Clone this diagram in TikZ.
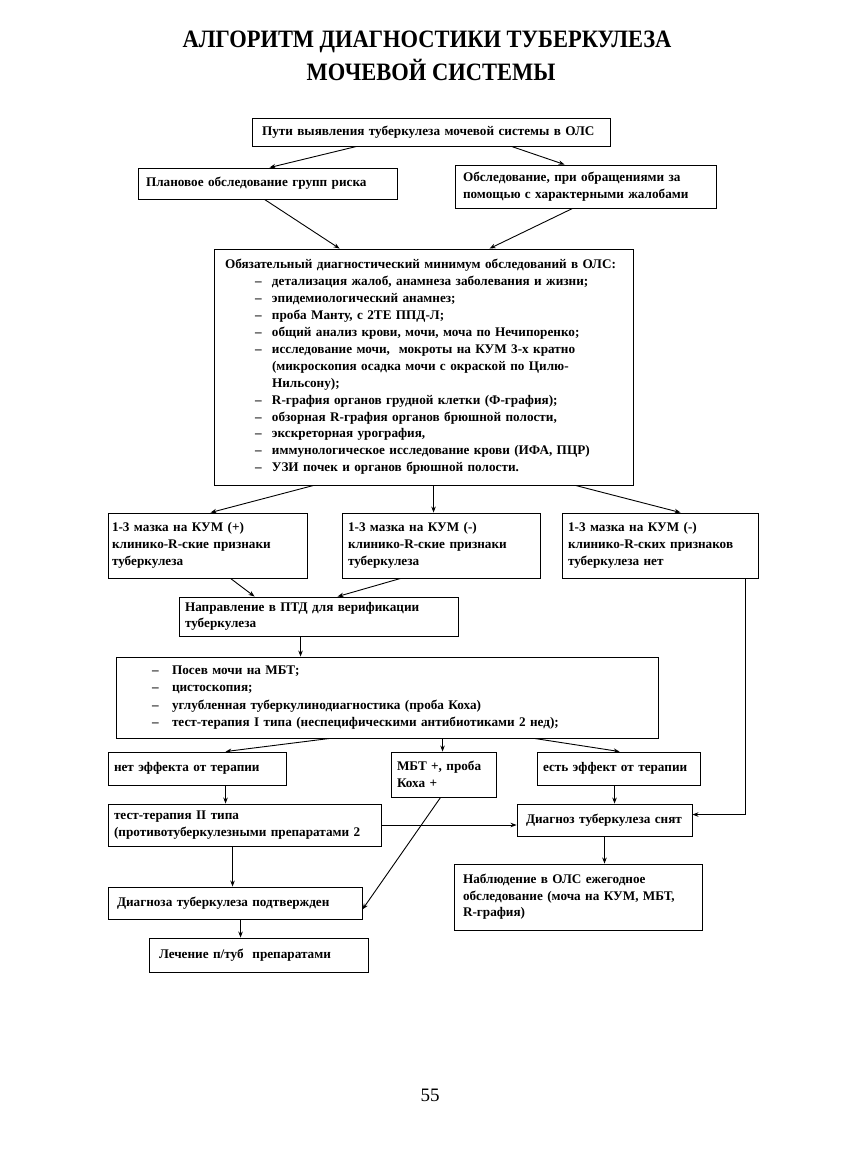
\documentclass[tikz,border=0pt]{standalone}
\usepackage{fontspec}
\setmainfont{Liberation Serif}
\usetikzlibrary{arrows.meta,calc}
\newcommand\dashitem[2]{\hspace*{#1}\makebox[#2][l]{–}}
\tikzset{
  box/.style={draw, line width=0.9pt, inner ysep=2pt, align=left,
    font=\fontsize{13.2}{16.5}\selectfont\bfseries},
  arr/.style={line width=0.9pt, -{Stealth[length=6pt,width=4.5pt]}},
  ttl/.style={inner sep=0pt, font=\fontsize{25}{29}\selectfont\bfseries},
}
\begin{document}
\begin{tikzpicture}[x=1pt,y=-1pt]
\fill[white] (0,0) rectangle (850,1150);
\useasboundingbox (0,0) rectangle (850,1150);

\node[ttl] (t1) at (427,42) {\scalebox{0.9}[1]{АЛГОРИТМ ДИАГНОСТИКИ ТУБЕРКУЛЕЗА}};
\node[ttl] (t2) at (431,70) {\scalebox{0.9}[1]{МОЧЕВОЙ СИСТЕМЫ}};

\node[box, minimum width=358pt, minimum height=28pt, text width=338pt, inner xsep=10pt] (b1) at (431,132)
  {Пути выявления туберкулеза мочевой системы в ОЛС};
\node[box, minimum width=259pt, minimum height=31pt, text width=243pt, inner xsep=8pt] (L) at (267.5,183.5)
  {Плановое обследование групп риска};
\node[box, minimum width=261pt, minimum height=43pt, text width=245pt, inner xsep=8pt] (R) at (585.5,186.5)
  {Обследование, при обращениями за\\помощью с характерными жалобами};

\node[box, minimum width=419pt, minimum height=236pt, text width=397pt, inner xsep=11pt,
  font=\fontsize{13.2}{16.9}\selectfont\bfseries] (M) at (423.5,367)
  {Обязательный диагностический минимум обследований в ОЛС:\\
   \dashitem{30pt}{17pt}детализация жалоб, анамнеза заболевания и жизни;\\
   \dashitem{30pt}{17pt}эпидемиологический анамнез;\\
   \dashitem{30pt}{17pt}проба Манту, с 2ТЕ ППД-Л;\\
   \dashitem{30pt}{17pt}общий анализ крови, мочи, моча по Нечипоренко;\\
   \dashitem{30pt}{17pt}исследование мочи,\ \ мокроты на КУМ 3-х кратно\\
   \hspace*{47pt}(микроскопия осадка мочи с окраской по Цилю-\\
   \hspace*{47pt}Нильсону);\\
   \dashitem{30pt}{17pt}R-графия органов грудной клетки (Ф-графия);\\
   \dashitem{30pt}{17pt}обзорная R-графия органов брюшной полости,\\
   \dashitem{30pt}{17pt}экскреторная урография,\\
   \dashitem{30pt}{17pt}иммунологическое исследование крови (ИФА, ПЦР)\\
   \dashitem{30pt}{17pt}УЗИ почек и органов брюшной полости.};

\node[box, minimum width=199pt, minimum height=65pt, text width=191pt, inner xsep=4pt,
  font=\fontsize{13.2}{17}\selectfont\bfseries] (A) at (207.5,545.5)
  {1-3 мазка на КУМ (+)\\клинико-R-ские признаки\\туберкулеза};
\node[box, minimum width=198pt, minimum height=65pt, text width=186pt, inner xsep=6pt,
  font=\fontsize{13.2}{17}\selectfont\bfseries] (B) at (441,545.5)
  {1-3 мазка на КУМ (-)\\клинико-R-ские признаки\\туберкулеза};
\node[box, minimum width=196pt, minimum height=65pt, text width=184pt, inner xsep=6pt,
  font=\fontsize{13.2}{17}\selectfont\bfseries] (C) at (660,545.5)
  {1-3 мазка на КУМ (-)\\клинико-R-ских признаков\\туберкулеза нет};

\node[box, minimum width=279pt, minimum height=39pt, text width=267pt, inner xsep=6pt] (N) at (318.5,616.5)
  {Направление в ПТД для верификации\\туберкулеза};

\node[box, minimum width=542pt, minimum height=81pt, text width=530pt, inner xsep=6pt,
  font=\fontsize{13.2}{17.3}\selectfont\bfseries] (T1) at (387,697.5)
  {\dashitem{30pt}{20pt}Посев мочи на МБТ;\\
   \dashitem{30pt}{20pt}цистоскопия;\\
   \dashitem{30pt}{20pt}углубленная туберкулинодиагностика (проба Коха)\\
   \dashitem{30pt}{20pt}тест-терапия I типа (неспецифическими антибиотиками 2 нед);};

\node[box, minimum width=178pt, minimum height=33pt, text width=166pt, inner xsep=6pt] (Net) at (197,768.5)
  {нет эффекта от терапии};
\node[box, minimum width=105pt, minimum height=45pt, text width=93pt, inner xsep=6pt] (MBT) at (443.5,774.5)
  {МБТ +, проба\\Коха +};
\node[box, minimum width=163pt, minimum height=33pt, text width=151pt, inner xsep=6pt] (Est) at (618.5,768.5)
  {есть эффект от терапии};

\node[box, minimum width=273pt, minimum height=42pt, text width=261pt, inner xsep=6pt] (TT2) at (244.5,825)
  {тест-терапия II типа\\(противотуберкулезными препаратами 2};
\node[box, minimum width=175pt, minimum height=32pt, text width=157pt, inner xsep=9pt] (S) at (604.5,820)
  {Диагноз туберкулеза снят};
\node[box, minimum width=248pt, minimum height=66pt, text width=230pt, inner xsep=9pt] (Nabl) at (578,897)
  {Наблюдение в ОЛС ежегодное\\обследование (моча на КУМ, МБТ,\\R-графия)};
\node[box, minimum width=254pt, minimum height=32pt, text width=236pt, inner xsep=9pt] (P) at (235,903)
  {Диагноза туберкулеза подтвержден};
\node[box, minimum width=219pt, minimum height=34pt, text width=199pt, inner xsep=10pt] (Lech) at (258.5,955)
  {Лечение п/туб\ \ препаратами};

\node[font=\fontsize{19}{22}\selectfont] (pg) at (430,1095) {55};

\draw[arr] ($(b1.south west)+(105,0)$) -- ($(L.north west)+(132,0)$);
\draw[arr] ($(b1.south west)+(260,0)$) -- ($(R.north west)+(110,0)$);
\draw[arr] ($(L.south west)+(127,0)$) -- ($(M.north west)+(126,0)$);
\draw[arr] ($(R.south west)+(118,0)$) -- ($(M.north west)+(276,0)$);
\draw[arr] ($(M.south west)+(100,0)$) -- ($(A.north west)+(103,0)$);
\draw[arr] ($(M.south west)+(220,0)$) -- ($(B.north west)+(92,0)$);
\draw[arr] ($(M.south west)+(362,0)$) -- ($(C.north west)+(119,0)$);
\draw[arr] ($(A.south west)+(123,0)$) -- ($(N.north west)+(76,0)$);
\draw[arr] ($(B.south west)+(59,0)$) -- ($(N.north west)+(159,0)$);
\draw[arr] ($(C.south west)+(184,0)$) |- ($(S.north east)+(0,11)$);
\draw[arr] ($(N.south west)+(122,0)$) -- ($(T1.north west)+(185,0)$);
\draw[arr] ($(T1.south west)+(214,0)$) -- ($(Net.north west)+(118,0)$);
\draw[arr] ($(T1.south west)+(327,0)$) -- ($(MBT.north west)+(52,0)$);
\draw[arr] ($(T1.south west)+(419,0)$) -- ($(Est.north west)+(83,0)$);
\draw[arr] ($(Net.south west)+(118,0)$) -- ($(TT2.north west)+(118,0)$);
\draw[arr] ($(Est.south west)+(78,0)$) -- ($(S.north west)+(98,0)$);
\draw[arr] (TT2.east) -- (TT2.east -| S.west);
\draw[arr] (S.south) -- (S.south |- Nabl.north);
\draw[arr] ($(MBT.south west)+(50,0)$) -- ($(P.south east)+(0,-10)$);
\draw[arr] ($(TT2.south west)+(125,0)$) -- ($(P.north west)+(125,0)$);
\draw[arr] ($(P.south west)+(133,0)$) -- ($(Lech.north west)+(92,0)$);
\end{tikzpicture}
\end{document}
